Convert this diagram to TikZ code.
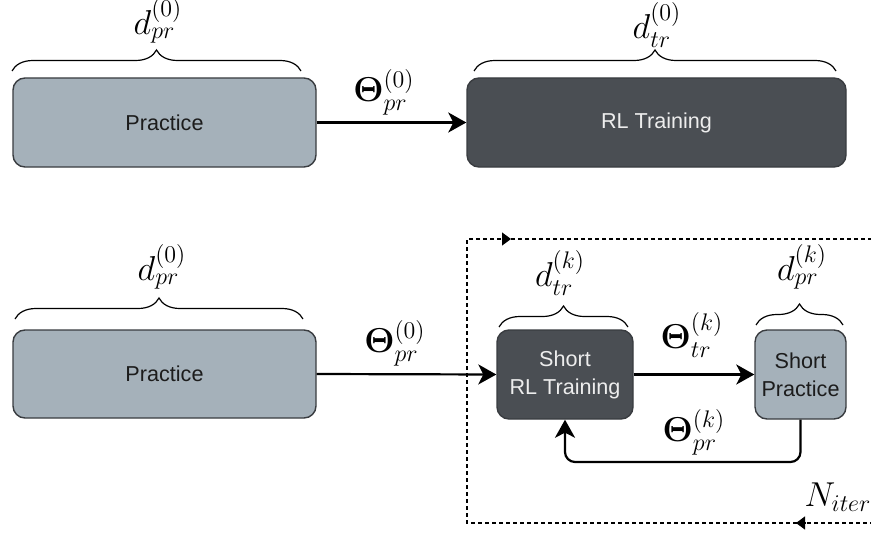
\documentclass[tikz,border=0pt]{standalone}
\usepackage[no-math]{fontspec}
\setmainfont{Liberation Sans}
\usepackage{amsmath}
\usetikzlibrary{arrows.meta,decorations.pathreplacing,calc}
\definecolor{lightbox}{HTML}{A5B1BA}
\definecolor{darkbox}{HTML}{4A4E53}
\definecolor{boxline}{HTML}{393C40}
\definecolor{lighttext}{HTML}{EDEDED}
\definecolor{darktext}{HTML}{1C1C1C}
\begin{document}
\begin{tikzpicture}[x=0.5pt,y=-0.5pt,
  block/.style={draw=boxline,line width=0.7pt,rounded corners=6pt,inner sep=0pt,
    align=center,font=\fontsize{10.8}{14}\selectfont},
  lightblock/.style={block,fill=lightbox,text=darktext},
  darkblock/.style={block,fill=darkbox,text=lighttext},
  conn/.style={line width=1.1pt,-{Stealth[length=9pt,width=10pt,inset=2.5pt]}},
  brc/.style={decorate,decoration={brace,amplitude=10.5pt},line width=0.6pt},
  mathlbl/.style={inner sep=0pt,font=\fontsize{16.5}{19}\selectfont},
  frame/.style={line width=0.6pt,dash pattern=on 2pt off 1.5pt},
  frametip/.style={line width=0.6pt,-{Triangle[length=4.5pt,width=6.5pt]}}]
\useasboundingbox (0,0) rectangle (871,535);

% ---- single pass: practice, then RL training ----
\node[lightblock,minimum width=151.5pt,minimum height=44.5pt] (prA) at (164.5,122.5) {Practice};
\node[darkblock,minimum width=189.5pt,minimum height=44.5pt] (rlA) at (656.5,122.5) {RL Training};
\draw[conn] (prA.east) -- (rlA.west);

\draw[brc] (12,71) -- (301,71);
\draw[brc] (474,71) -- (836,71);
\node[mathlbl] (dA) at (158,21) {$d_{pr}^{(0)}$};
\node[mathlbl] (dB) at (657,25) {$d_{tr}^{(0)}$};
\node[mathlbl] (thA) at (384,92) {$\boldsymbol{\Theta}_{pr}^{(0)}$};

% ---- iterated scheme ----
\node[lightblock,minimum width=151.5pt,minimum height=44pt] (prB) at (164.5,374) {Practice};
\node[darkblock,minimum width=68pt,minimum height=44.5pt] (srl) at (565,374.5) {Short\\RL Training};
\node[lightblock,minimum width=45.5pt,minimum height=44.5pt] (sp) at (800.5,374.5) {Short\\Practice};

% iteration frame (runs past the right edge)
\coordinate (fTL) at (467,239);
\coordinate (fBL) at (467,523);
\coordinate (fTR) at (900,239);
\coordinate (fBR) at (900,523);
\draw[frame] (fTR) -- (fTL) -- (fBL) -- (fBR);
\draw[frametip] (503,239) -- (511,239);
\draw[frametip] (805,523) -- (796,523);

\draw[conn] (prB.east) -- (srl.west);
\draw[conn] (srl.east) -- (sp.west);
\coordinate (fb) at (700,462);
\draw[conn,rounded corners=5pt] (sp.south) |- (srl.south |- fb) -- (srl.south);

\draw[brc] (15,319) -- (303,319);
\draw[brc] (499,327) -- (628,327);
\draw[brc] (756,325) -- (843,325);
\node[mathlbl] (dC) at (162,267) {$d_{pr}^{(0)}$};
\node[mathlbl] (dD) at (560,273) {$d_{tr}^{(k)}$};
\node[mathlbl] (dE) at (802,267) {$d_{pr}^{(k)}$};
\node[mathlbl] (thB) at (395,343) {$\boldsymbol{\Theta}_{pr}^{(0)}$};
\node[mathlbl] (thC) at (692,335) {$\boldsymbol{\Theta}_{tr}^{(k)}$};
\node[mathlbl] (thD) at (694,432) {$\boldsymbol{\Theta}_{pr}^{(k)}$};
\node[mathlbl] (nit) at (838,497) {$N_{iter}$};
\end{tikzpicture}
\end{document}
